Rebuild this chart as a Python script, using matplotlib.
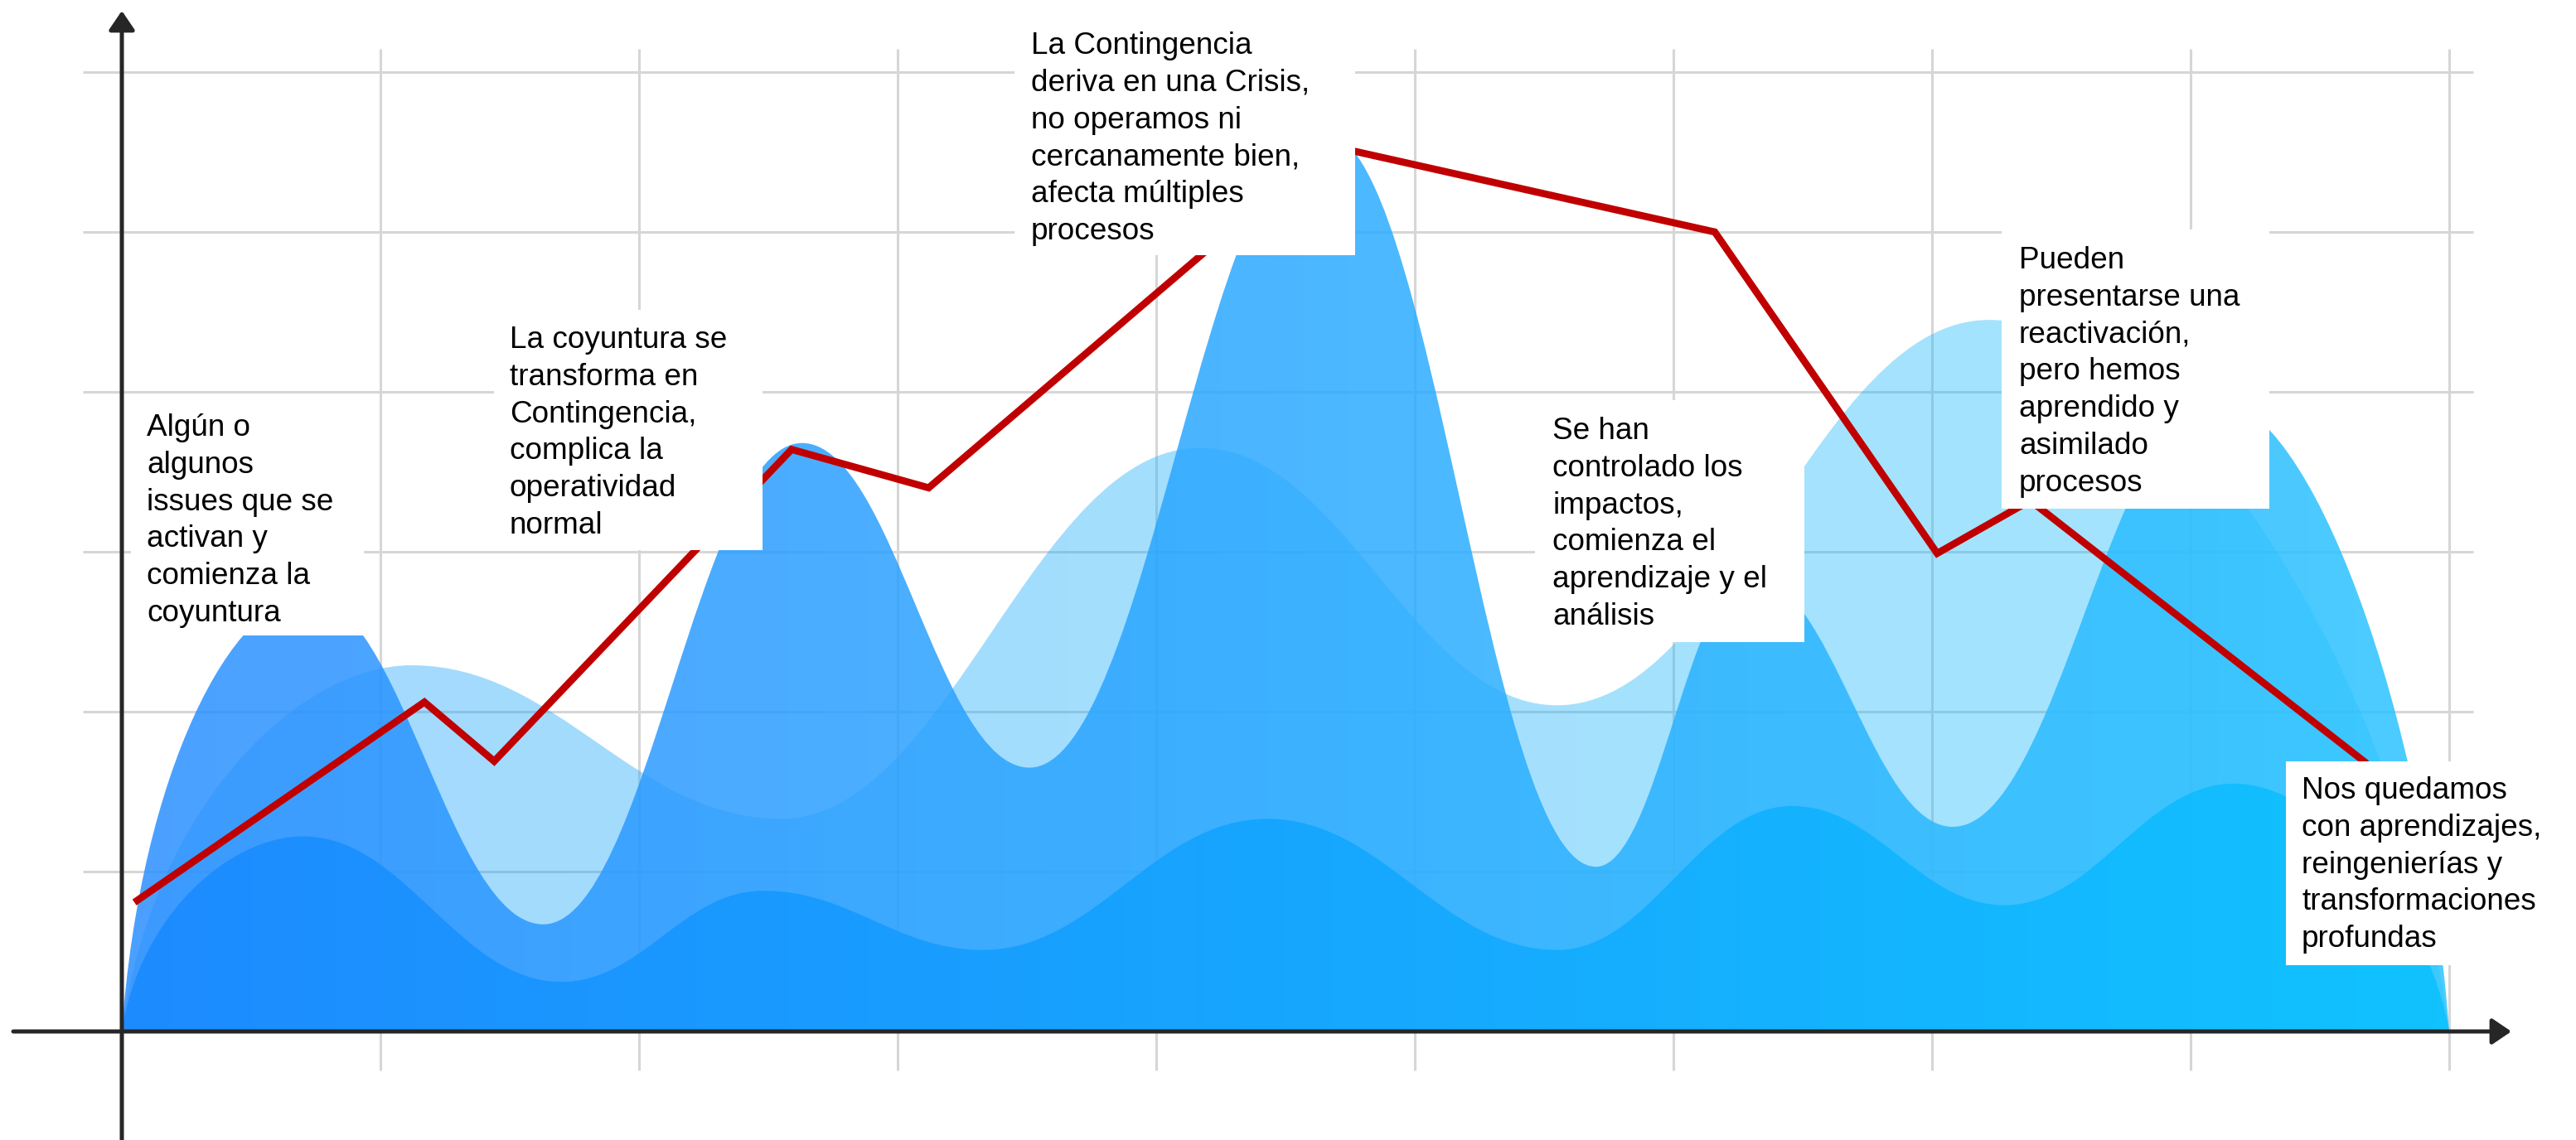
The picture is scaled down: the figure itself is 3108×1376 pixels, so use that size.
import numpy as np
import matplotlib
matplotlib.use('Agg')
import matplotlib.pyplot as plt
from matplotlib.path import Path
from matplotlib.patches import PathPatch, Rectangle
from matplotlib.colors import LinearSegmentedColormap

plt.rcParams['font.family'] = ['Liberation Sans', 'DejaVu Sans']

# Wave layers: crests and troughs in grid units (x: 0..9, y: 0..6)
back_x = [0, 1.12, 2.55, 4.17, 5.55, 7.22, 9.0]
back_y = [0, 2.29, 1.33, 3.65, 2.04, 4.45, 0]
mid_x = [0, 0.72, 1.63, 2.63, 3.51, 4.65, 5.70, 6.30, 7.08, 8.10, 9.0]
mid_y = [0, 2.72, 0.67, 3.68, 1.65, 5.62, 1.03, 2.85, 1.28, 3.95, 0]
front_x = [0, 0.70, 1.70, 2.48, 3.33, 4.43, 5.55, 6.46, 7.28, 8.17, 9.0]
front_y = [0, 1.22, 0.31, 0.88, 0.51, 1.33, 0.51, 1.41, 0.79, 1.55, 0]

# Red trend line
trend_x = [0.06, 1.17, 1.44, 2.59, 3.12, 4.67, 6.16, 7.02, 7.38, 8.67]
trend_y = [0.82, 2.06, 1.69, 3.64, 3.40, 5.54, 5.00, 2.99, 3.32, 1.69]

notes = [
    ["Algún o", "algunos", "issues que se", "activan y", "comienza la", "coyuntura"],
    ["La coyuntura se", "transforma en", "Contingencia,", "complica la", "operatividad", "normal"],
    ["La Contingencia", "deriva en una Crisis,", "no operamos ni", "cercanamente bien,",
     "afecta múltiples", "procesos"],
    ["Se han", "controlado los", "impactos,", "comienza el", "aprendizaje y el", "análisis"],
    ["Pueden", "presentarse una", "reactivación,", "pero hemos", "aprendido y", "asimilado", "procesos"],
    ["Nos quedamos", "con aprendizajes,", "reingenierías y", "transformaciones", "profundas"],
]

# layout, in pixels of the 3108x1376 canvas
X0_PX, Y0_PX, XSTEP_PX, YSTEP_PX = 147, 1245, 312, 193
W_PX, H_PX = 3108, 1376
# box (left, top, right, bottom) and text (left, first baseline)
note_boxes = [(158, 482, 439, 767), (596, 374, 920, 664), (1224, 12, 1635, 308),
              (1852, 483, 2177, 775), (2415, 277, 2738, 614), (2758, 919, 3078, 1165)]
note_text_pos = [(177, 526), (615, 420), (1244, 65), (1873, 530), (2436, 324), (2777, 964)]
LINE_PX = 44.8


def px(x, y):
    return (x - X0_PX) / XSTEP_PX, (Y0_PX - y) / YSTEP_PX


def wave_path(xs, ys, k=0.4):
    verts = [(xs[0], ys[0])]
    codes = [Path.MOVETO]
    n = len(xs) - 1
    for i in range(n):
        x0, y0, x1, y1 = xs[i], ys[i], xs[i + 1], ys[i + 1]
        dx = x1 - x0
        if i == 0:
            c1 = (x0 + 0.1 * dx, y0 + 0.6 * (y1 - y0))
        else:
            c1 = (x0 + k * dx, y0)
        if i == n - 1:
            c2 = (x1 - 0.1 * dx, y1 + 0.5 * (y0 - y1))
        else:
            c2 = (x1 - k * dx, y1)
        verts += [c1, c2, (x1, y1)]
        codes += [Path.CURVE4] * 3
    verts += [(xs[0], ys[0]), (xs[0], ys[0])]
    codes += [Path.LINETO, Path.CLOSEPOLY]
    return Path(verts, codes)


def gradient_layer(ax, xs, ys, c_left, c_right, alpha, z):
    patch = PathPatch(wave_path(xs, ys), facecolor='none', edgecolor='none')
    ax.add_patch(patch)
    cmap = LinearSegmentedColormap.from_list('layer', [c_left, c_right])
    grad = np.linspace(0, 1, 256).reshape(1, -1)
    im = ax.imshow(grad, extent=[0, 9, 0, max(ys) + 0.1], cmap=cmap, aspect='auto',
                   alpha=alpha, zorder=z, interpolation='bilinear')
    im.set_clip_path(patch)


fig = plt.figure(figsize=(W_PX / 100, H_PX / 100), dpi=100)
ax = fig.add_axes([0, 0, 1, 1])
ax.axis('off')

# grid (under the translucent layers)
gx0, _ = px(100, 0)
gx1, _ = px(2984, 0)
_, gy_top = px(0, 59)
_, gy_bot = px(0, 1292)
for yv in range(1, 7):
    ax.plot([gx0, gx1], [yv, yv], color='#d6d6d6', lw=2.2, zorder=0.5,
            solid_capstyle='butt')
for xv in range(1, 10):
    ax.plot([xv, xv], [gy_bot, gy_top], color='#d6d6d6', lw=2.2, zorder=0.5,
            solid_capstyle='butt')

# layers
gradient_layer(ax, back_x, back_y, '#19a0fa', '#1ec0fc', 0.4, 1)
gradient_layer(ax, mid_x, mid_y, '#2a8fff', '#2ac4ff', 0.85, 2)
gradient_layer(ax, front_x, front_y, '#1b8aff', '#0ec2ff', 0.93, 3)

# axes with arrow heads
ax_x0, _ = px(16, 0)
ax_x1, _ = px(3030, 0)
_, ax_y0 = px(0, H_PX + 5)
_, ax_y1 = px(0, 13)
arrow = dict(arrowstyle='-|>,head_length=14,head_width=9.5', color='#262626', lw=3.6,
             shrinkA=0, shrinkB=0, mutation_scale=1)
ax.annotate('', xy=(ax_x1, 0), xytext=(ax_x0, 0), arrowprops=arrow, zorder=5)
ax.annotate('', xy=(0, ax_y1), xytext=(0, ax_y0), arrowprops=arrow, zorder=5)

# trend
ax.plot(trend_x, trend_y, color='#c00000', lw=6.2, zorder=6, solid_joinstyle='miter')

# notes
for lines, (l, t, r, b), (tx, ty) in zip(notes, note_boxes, note_text_pos):
    x0, y0 = px(l, b)
    x1, y1 = px(r, t)
    ax.add_patch(Rectangle((x0, y0), x1 - x0, y1 - y0, facecolor='white',
                           edgecolor='none', zorder=7))
    for i, line in enumerate(lines):
        lx, ly = px(tx, ty + i * LINE_PX)
        ax.text(lx, ly, line, fontsize=26.6, color='black', ha='left', va='baseline',
                zorder=8)

xl, _ = px(0, 0)
xr, _ = px(W_PX, 0)
_, yb = px(0, H_PX)
_, yt = px(0, 0)
ax.set_xlim(xl, xr)
ax.set_ylim(yb, yt)

fig.savefig('out.png', dpi=100)
